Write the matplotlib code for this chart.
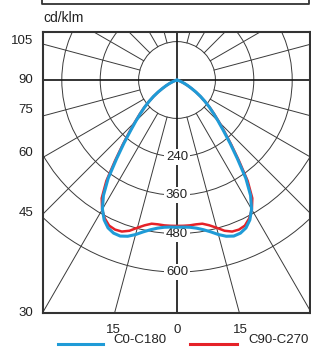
import numpy as np
import matplotlib
matplotlib.use("Agg")
import matplotlib.pyplot as plt
from matplotlib.patches import Circle
from matplotlib.lines import Line2D

plt.rcParams['font.family'] = ['Liberation Sans', 'DejaVu Sans']

# ---- data (angle from nadir in degrees, luminous intensity in cd/klm) ----
gamma = [0, 2.5, 5, 7.5, 10, 12.5, 15, 17.5, 20, 22.5, 25, 27.5, 30, 32.5, 35,
         37.5, 40, 42.5, 45, 47.5, 50, 52.5, 55, 57.5, 60, 62.5, 65, 67.5, 70,
         72.5, 75, 77.5, 80, 82.5, 85, 87.5, 90]
c0_c180 = [460, 460, 462, 467, 475, 486, 500, 512, 519, 518, 510, 493, 466, 428, 375,
           310, 258, 215, 182, 155, 132, 110, 90, 70, 52, 38, 26, 16, 9,
           5, 3, 1, 0, 0, 0, 0, 0]
c90_c270 = [456, 456, 456, 455, 456, 465, 478, 494, 504, 506, 502, 488, 468, 438, 385,
            318, 264, 220, 186, 158, 134, 110, 89, 70, 52, 38, 26, 16, 9,
            5, 3, 1, 0, 0, 0, 0, 0]
ring_values = [120, 240, 360, 480, 600]
ring_labels = ["240", "360", "480", "600"]
spoke_angles = [15, 30, 45, 60, 75, 105, 120, 135, 150, 165]
left_labels = ["105", "90", "75", "60", "45", "30"]
left_label_pos = [128, 6, -88, -225, -412, -725]
bottom_labels = ["15", "0", "15"]
bottom_label_pos = [-200, 0, 198]
series_names = ["C0-C180", "C90-C270"]
series_colors = ["#1f9bd7", "#e52228"]

W, H = 311, 347
S = 0.32  # px per cd

fig = plt.figure(figsize=(W / 100, H / 100), dpi=100)
ax = fig.add_axes([43 / W, 1 - 313 / H, 267 / W, 281 / H])
ax.set_xlim(-134 / S, 133 / S)
ax.set_ylim(-233 / S, 48 / S)

grid_c = "#3a3a3a"
# rings
for rv in ring_values:
    ax.add_patch(Circle((0, 0), rv, fill=False, ec=grid_c, lw=0.7, zorder=1))
# spokes from inner ring outward
for a in spoke_angles:
    t = np.deg2rad(a)
    for sgn in (-1, 1):
        ax.plot([sgn * 120 * np.sin(t), sgn * 3000 * np.sin(t)],
                [-120 * np.cos(t), -3000 * np.cos(t)], color=grid_c, lw=0.7, zorder=1)
# main axes lines
ax.axhline(0, color="#111111", lw=1.2, zorder=1.5)
ax.axvline(0, color="#111111", lw=1.2, zorder=1.5)

# ring labels
for rv, lab in zip(ring_values[1:], ring_labels):
    ax.text(0, -rv, lab, ha="center", va="center", fontsize=9.5, color="#222222",
            bbox=dict(boxstyle="square,pad=0.15", fc="white", ec="none"), zorder=2)

# curves
g = np.deg2rad(np.array(gamma))
for vals, col, lw, z in [(c90_c270, series_colors[1], 1.8, 3), (c0_c180, series_colors[0], 2.2, 4)]:
    v = np.array(vals, dtype=float)
    th = np.concatenate([-g[::-1], g[1:]])
    rr = np.concatenate([v[::-1], v[1:]])
    ax.plot(rr * np.sin(th), -rr * np.cos(th), color=col, lw=lw, zorder=z,
            solid_joinstyle="round", solid_capstyle="round")

# ticks
ax.set_yticks(left_label_pos)
ax.set_yticklabels(left_labels)
ax.set_xticks(bottom_label_pos)
ax.set_xticklabels(bottom_labels)
ax.tick_params(axis="y", length=0, pad=7, labelsize=9.5, labelcolor="#222222")
ax.tick_params(axis="x", length=0, pad=8, labelsize=9.5, labelcolor="#222222")
for sp in ax.spines.values():
    sp.set_color("#333333")
    sp.set_linewidth(1.5)
    sp.set_zorder(5)

# unit label
fig.text(43 / W, 1 - 18 / H, "cd/klm", ha="left", va="center", fontsize=10, color="#222222")

# partial box at top (edge of previous panel)
fig.add_artist(Line2D([42 / W, 42 / W, 309 / W, 309 / W], [1.01, 1 - 4 / H, 1 - 4 / H, 1.01],
                      transform=fig.transFigure, color="#333333", lw=1.3))

# legend
fig.add_artist(Line2D([58 / W, 103 / W], [1 - 344 / H] * 2, transform=fig.transFigure,
                      color=series_colors[0], lw=2.2))
fig.text(113 / W, 1 - 340 / H, series_names[0], ha="left", va="center", fontsize=9.5, color="#222222")
fig.add_artist(Line2D([190 / W, 237 / W], [1 - 344 / H] * 2, transform=fig.transFigure,
                      color=series_colors[1], lw=2.2))
fig.text(248 / W, 1 - 340 / H, series_names[1], ha="left", va="center", fontsize=9.5, color="#222222")

fig.savefig("out.png", dpi=100)
